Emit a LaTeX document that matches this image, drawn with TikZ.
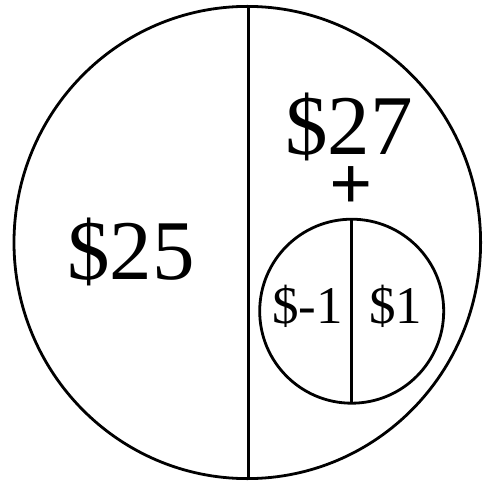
\documentclass[tikz,border=0pt]{standalone}
\usepackage{fontspec}
\setmainfont{Liberation Serif}
\begin{document}
\begin{tikzpicture}[x=1pt,y=-1pt,
  ring/.style={line width=2.8pt},
  bigtxt/.style={font=\fontsize{85}{85}\selectfont, inner sep=0pt, anchor=base},
  smalltxt/.style={font=\fontsize{53}{53}\selectfont, inner sep=0pt, anchor=base}]
\useasboundingbox (0,0) rectangle (484,481);
% big circle
\coordinate (C) at (247.3,242.5);
\draw[ring] (C) ellipse [x radius=233.3, y radius=236.1];
\coordinate (topB) at (248.3,6.4);
\coordinate (botB) at (248.3,478.6);
\draw[ring] (topB) -- (botB);
% small circle
\coordinate (c) at (351.7,311.2);
\draw[ring] (c) circle [radius=92.0];
\coordinate (topS) at (351.3,219.2);
\coordinate (botS) at (351.3,403.2);
\draw[ring] (topS) -- (botS);
% labels
\node[bigtxt] (t25) at (131,279) {\$25};
\node[bigtxt] (t27) at (349,155) {\$27};
\node[font=\fontsize{76}{76}\selectfont\bfseries, inner sep=0pt] (plus) at (351,188.5) {+};
\node[smalltxt] (tm1) at (307.5,323) {\$-1};
\node[smalltxt] (t1) at (395.5,323) {\$1};
\end{tikzpicture}
\end{document}
